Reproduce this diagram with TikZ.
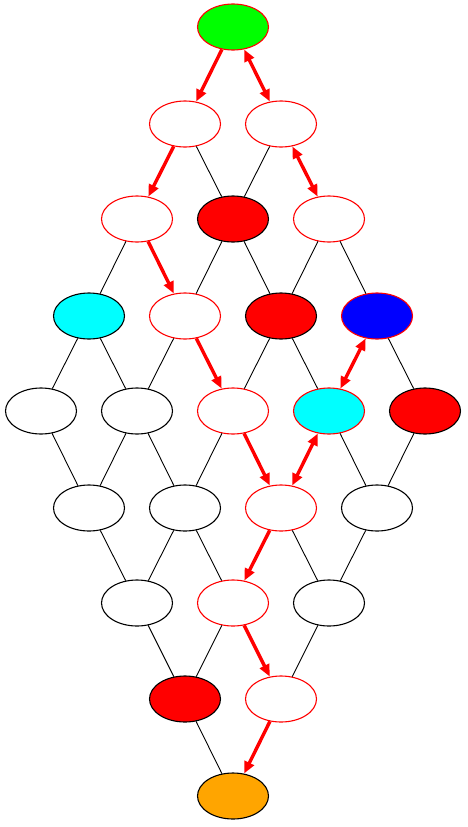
\documentclass[tikz,border=0pt]{standalone}
\usetikzlibrary{shapes.geometric,arrows.meta}
\definecolor{aqua}{RGB}{0,255,255}
\definecolor{lime}{RGB}{0,255,0}
\definecolor{orng}{RGB}{255,165,0}
\begin{document}
\begin{tikzpicture}[x=1pt,y=-1pt,
  nd/.style={ellipse,draw=black,line width=1.1pt,fill=white,minimum width=71pt,minimum height=46pt,inner sep=0pt},
  rn/.style={nd,draw=red},
  ln/.style={draw=black,line width=0.9pt},
  pa/.style={draw=red,line width=3.4pt,-{Triangle[length=12pt,width=10pt]}},
  pb/.style={draw=red,line width=3.4pt,{Triangle[length=12pt,width=10pt]}-{Triangle[length=12pt,width=10pt]}}]
\useasboundingbox (0,0) rectangle (467,827);
% row 0
\node[rn,fill=lime] (a) at (233,27) {};
% row 1
\node[rn] (b1) at (185,124) {};
\node[rn] (b2) at (281,124) {};
% row 2
\node[rn] (c1) at (137,219) {};
\node[nd,fill=red] (c2) at (233,219) {};
\node[rn] (c3) at (329,219) {};
% row 3
\node[nd,fill=aqua] (d1) at (89,316) {};
\node[rn] (d2) at (185,316) {};
\node[nd,fill=red] (d3) at (281,316) {};
\node[rn,fill=blue] (d4) at (377,316) {};
% row 4
\node[nd] (e1) at (41,411) {};
\node[nd] (e2) at (137,411) {};
\node[rn] (e3) at (233,411) {};
\node[rn,fill=aqua] (e4) at (329,411) {};
\node[nd,fill=red] (e5) at (425,411) {};
% row 5
\node[nd] (f1) at (89,508) {};
\node[nd] (f2) at (185,508) {};
\node[rn] (f3) at (281,508) {};
\node[nd] (f4) at (377,508) {};
% row 6
\node[nd] (g1) at (137,603) {};
\node[rn] (g2) at (233,603) {};
\node[nd] (g3) at (329,603) {};
% row 7
\node[nd,fill=red] (h1) at (185,699) {};
\node[rn] (h2) at (281,699) {};
% row 8
\node[nd,fill=orng] (i) at (233,796) {};
% black edges
\draw[ln] (b1) -- (c2);
\draw[ln] (b2) -- (c2);
\draw[ln] (c1) -- (d1);
\draw[ln] (c2) -- (d2);
\draw[ln] (c2) -- (d3);
\draw[ln] (c3) -- (d3);
\draw[ln] (c3) -- (d4);
\draw[ln] (d1) -- (e1);
\draw[ln] (d1) -- (e2);
\draw[ln] (d2) -- (e2);
\draw[ln] (d3) -- (e3);
\draw[ln] (d3) -- (e4);
\draw[ln] (d4) -- (e5);
\draw[ln] (e1) -- (f1);
\draw[ln] (e2) -- (f1);
\draw[ln] (e2) -- (f2);
\draw[ln] (e3) -- (f2);
\draw[ln] (e4) -- (f4);
\draw[ln] (e5) -- (f4);
\draw[ln] (f1) -- (g1);
\draw[ln] (f2) -- (g1);
\draw[ln] (f2) -- (g2);
\draw[ln] (f3) -- (g3);
\draw[ln] (f4) -- (g3);
\draw[ln] (g1) -- (h1);
\draw[ln] (g2) -- (h1);
\draw[ln] (g3) -- (h2);
\draw[ln] (h1) -- (i);
% red path
\draw[pa] (a) -- (b1);
\draw[pb] (a) -- (b2);
\draw[pa] (b1) -- (c1);
\draw[pb] (b2) -- (c3);
\draw[pa] (c1) -- (d2);
\draw[pa] (d2) -- (e3);
\draw[pb] (d4) -- (e4);
\draw[pa] (e3) -- (f3);
\draw[pb] (e4) -- (f3);
\draw[pa] (f3) -- (g2);
\draw[pa] (g2) -- (h2);
\draw[pa] (h2) -- (i);
\end{tikzpicture}
\end{document}
